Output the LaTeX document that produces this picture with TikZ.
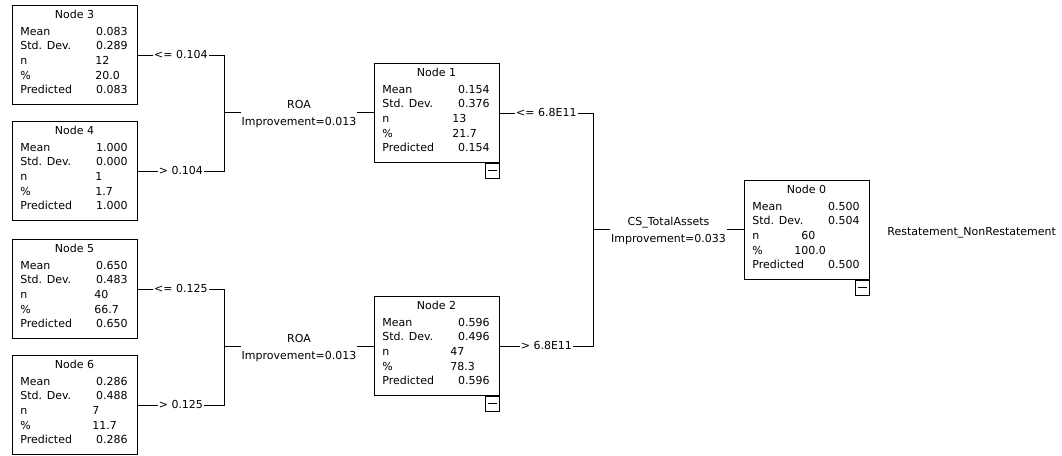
\documentclass[tikz,border=0pt]{standalone}
\usepackage{fontspec}
\setmainfont{DejaVu Sans}

% one box of the tree: name, top left, number, mean, std. dev., n, %, predicted, column of n and %
\newcommand\statnode[9]{%
  \begin{scope}[shift={(#2)}]
    \node[statbox] (#1) at (0,0) {};
    \node[title] (#1-title) at (62.5,13) {Node #3};
    \node[key] (#1-k1) at (8,30) {Mean};
    \node[key] (#1-k2) at (8,44.7) {Std. Dev.};
    \node[key] (#1-k3) at (8,59.4) {n};
    \node[key] (#1-k4) at (8,74.1) {\%};
    \node[key] (#1-k5) at (8,88.8) {Predicted};
    \node[val] (#1-v1) at (116,30) {#4};
    \node[val] (#1-v2) at (116,44.7) {#5};
    \node[key] (#1-v3) at (#9,59.4) {#6};
    \node[key] (#1-v4) at (#9,74.1) {#7};
    \node[val] (#1-v5) at (116,88.8) {#8};
  \end{scope}}

\begin{document}
\begin{tikzpicture}[x=1pt,y=-1pt,line width=0.8pt,
    every node/.style={font=\fontsize{11}{13}\selectfont},
    statbox/.style={draw,anchor=north west,minimum width=125,minimum height=99,inner sep=0},
    title/.style={anchor=base,inner sep=0},
    key/.style={anchor=base west,inner sep=0},
    val/.style={anchor=base east,inner sep=0},
    collapse/.style={draw,anchor=north east,minimum width=14,minimum height=15,inner sep=0},
    cut/.style={fill=white,inner sep=1pt},
    split/.style={fill=white,inner sep=1pt,align=center,text depth=0pt,
      font=\fontsize{11}{17}\selectfont}]
    \useasboundingbox (0,0) rectangle (1062,455);
    % Left: the four leaves
    \statnode{n3}{12,5}{3}{0.083}{0.289}{12}{20.0}{0.083}{83}
    \statnode{n4}{12,121}{4}{1.000}{0.000}{1}{1.7}{1.000}{83}
    \statnode{n5}{12,239}{5}{0.650}{0.483}{40}{66.7}{0.650}{82}
    \statnode{n6}{12,355}{6}{0.286}{0.488}{7}{11.7}{0.286}{80}
    % Middle: nodes 1 and 2
    \statnode{n1}{374,63}{1}{0.154}{0.376}{13}{21.7}{0.154}{78}
    \statnode{n2}{374,296}{2}{0.596}{0.496}{47}{78.3}{0.596}{76}
    % Right: root
    \statnode{n0}{744,180}{0}{0.500}{0.504}{\hspace{7pt}60}{100.0}{0.500}{50}
    \node[anchor=base west,inner sep=0] (target) at (887,235) {Restatement\_NonRestatement};
    % collapse buttons
    \foreach \n in {n1,n2,n0} {
      \node[collapse] (\n-c) at (\n.south east) {};
      \draw ([xshift=-4.5pt]\n-c.center) -- ([xshift=4.5pt]\n-c.center);
    }
    % Splits on ROA
    \coordinate (s12) at (224,112.5);
    \draw (n3.east) -- node[cut] {<= 0.104} (n3.east -| s12) -- (n4.east -| s12)
      -- node[cut] {> 0.104} (n4.east);
    \draw (s12) -- node[split] {ROA\\Improvement=0.013} (s12 -| n1.west);
    \coordinate (s56) at (224,346.5);
    \draw (n5.east) -- node[cut] {<= 0.125} (n5.east -| s56) -- (n6.east -| s56)
      -- node[cut] {> 0.125} (n6.east);
    \draw (s56) -- node[split] {ROA\\Improvement=0.013} (s56 -| n2.west);
    % Split on CS_TotalAssets
    \coordinate (s0) at (593,229.5);
    \draw (n1.east) -- node[cut] {<= 6.8E11} (n1.east -| s0) -- (n2.east -| s0)
      -- node[cut] {> 6.8E11} (n2.east);
    \draw (s0) -- node[split] {CS\_TotalAssets\\Improvement=0.033} (s0 -| n0.west);
\end{tikzpicture}
\end{document}
